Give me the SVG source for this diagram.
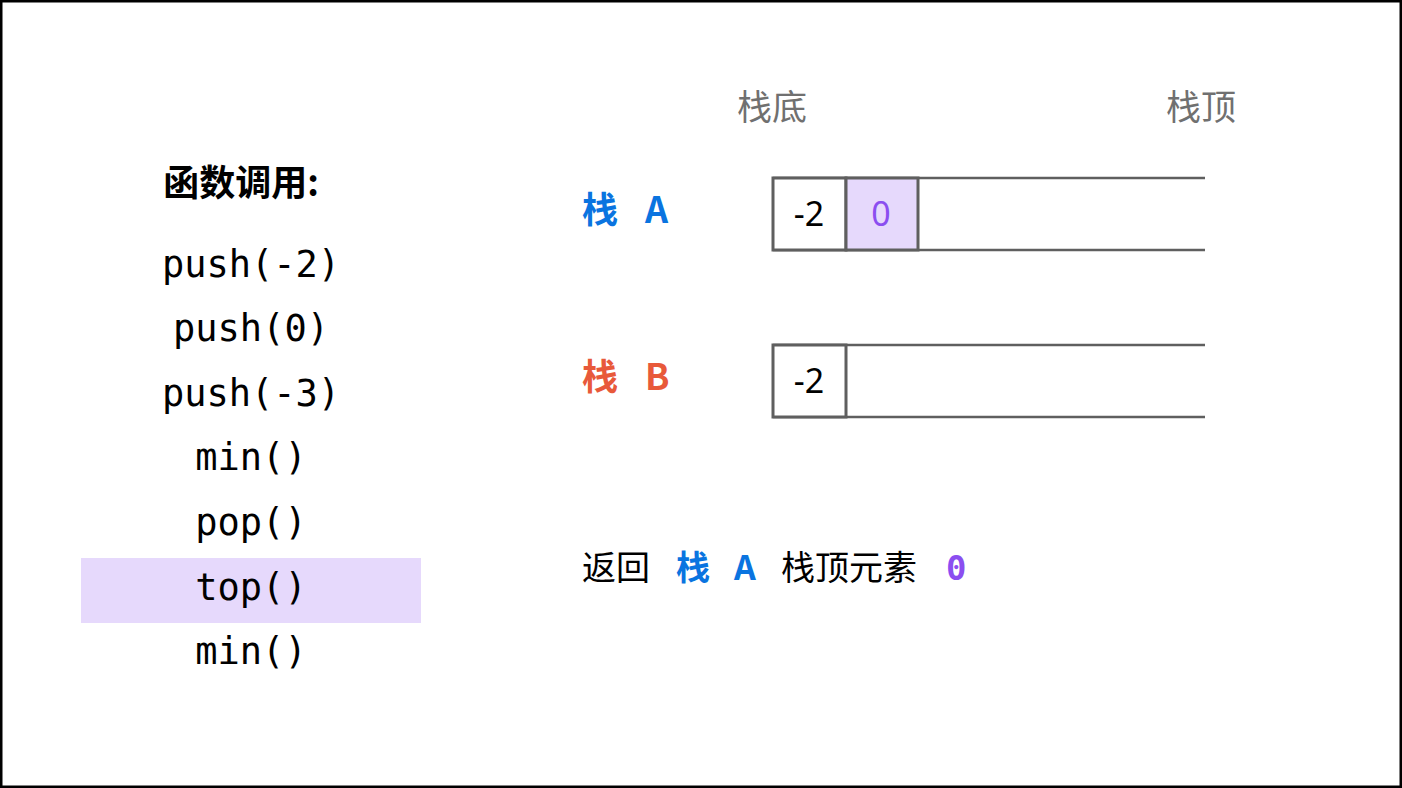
<svg xmlns="http://www.w3.org/2000/svg" width="1402" height="788" viewBox="0 0 1402 788">
<style>
.code{font-family:"DejaVu Sans Mono","Liberation Mono",monospace;font-size:37px;fill:#000;text-anchor:middle}
.cjk{font-family:"Noto Sans CJK SC","Noto Sans",sans-serif;font-size:34px}
.lbl{font-family:"Noto Sans CJK SC","Noto Sans",sans-serif;font-size:36px;font-weight:bold}
.cell{fill:#fff;stroke:#5f5f5f;stroke-width:3}
.rail{stroke:#5f5f5f;stroke-width:2.5;fill:none}
.num{font-family:"Noto Sans","Liberation Sans",sans-serif;font-size:34px;text-anchor:middle}
</style>
<rect x="1" y="1" width="1400" height="786" fill="#fff" stroke="#000" stroke-width="3"/>
<g id="calls">
<text class="cjk" x="241" y="196" text-anchor="middle" font-weight="bold" style="font-size:36px">函数调用:</text>
<rect x="81" y="558" width="340" height="65" fill="#e6d9fc"/>
<text class="code" x="251" y="277">push(-2)</text>
<text class="code" x="251" y="341">push(0)</text>
<text class="code" x="251" y="406">push(-3)</text>
<text class="code" x="251" y="470">min()</text>
<text class="code" x="251" y="535">pop()</text>
<text class="code" x="251" y="600">top()</text>
<text class="code" x="251" y="664">min()</text>
</g>
<g id="headers">
<text class="cjk" x="772" y="120" text-anchor="middle" fill="#707070" style="font-size:35px">栈底</text>
<text class="cjk" x="1201" y="120" text-anchor="middle" fill="#707070" style="font-size:35px">栈顶</text>
</g>
<g id="stackA">
<text class="lbl" fill="#0a74e0"><tspan x="582" y="223">栈</tspan><tspan x="645" y="223">A</tspan></text>
<line class="rail" x1="773" y1="178" x2="1205" y2="178"/>
<line class="rail" x1="773" y1="250" x2="1205" y2="250"/>
<rect class="cell" x="773" y="178" width="73" height="72"/>
<rect class="cell" x="846" y="178" width="72" height="72" style="fill:#e6d9fc"/>
<text class="num" x="809" y="226">-2</text>
<text class="num" x="881" y="226" fill="#8b4ef0">0</text>
</g>
<g id="stackB">
<text class="lbl" fill="#e8593a"><tspan x="582" y="390">栈</tspan><tspan x="645" y="390">B</tspan></text>
<line class="rail" x1="773" y1="345" x2="1205" y2="345"/>
<line class="rail" x1="773" y1="417" x2="1205" y2="417"/>
<rect class="cell" x="773" y="345" width="73" height="72"/>
<text class="num" x="809" y="393">-2</text>
</g>
<g id="result">
<text class="cjk" x="582" y="580">返回</text>
<text class="lbl" fill="#0a74e0" style="font-size:34px"><tspan x="676" y="580">栈</tspan><tspan x="734" y="580">A</tspan></text>
<text class="cjk" x="781" y="580">栈顶元素</text>
<text x="946" y="580" font-family="DejaVu Sans Mono,monospace" font-size="34" font-weight="bold" fill="#8b4ef0">0</text>
</g>
<g id="connectors"></g>
</svg>
